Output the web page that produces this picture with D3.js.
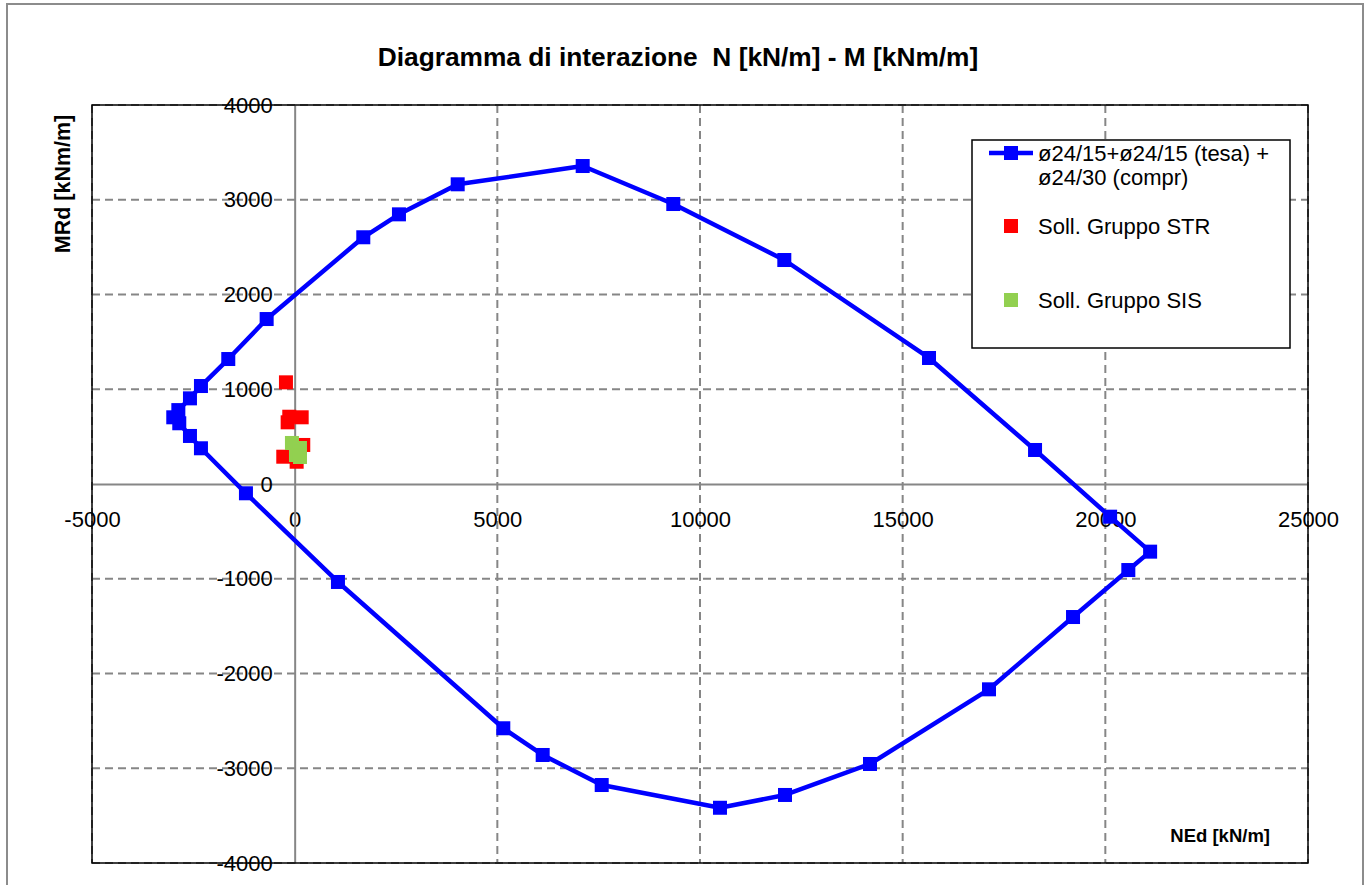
<!DOCTYPE html>
<html>
<head>
<meta charset="utf-8">
<script src="https://cdn.jsdelivr.net/npm/d3@7"></script>
<style>
  html, body { margin: 0; padding: 0; background: #fff; }
  svg { display: block; font-family: "Liberation Sans", Arial, sans-serif; }
</style>
</head>
<body>
<svg id="chart" width="1368" height="885"></svg>
<script>
// ---------- data ----------
const envelopeN = [-691, 1693, 2573, 4022, 7106, 9341, 12080, 15650, 18266, 20118, 21105, 20567, 19203, 17130, 14194, 12097, 10493, 7575, 6119, 5147, 1068, -1202, -2312, -2583, -2847, -2995, -2870, -2583, -2312, -1638];
const envelopeM = [1741, 2604, 2846, 3163, 3356, 2955, 2364, 1330, 359, -345, -714, -908, -1404, -2167, -2955, -3282, -3417, -3177, -2860, -2578, -1034, -98, 377, 507, 641, 704, 780, 904, 1034, 1319];

const strN = [-215, -133, 173, -173, 212, -281, 49];
const strM = [1073, 710, 704, 651, 412, 288, 235];

const sisN = [-67, 131, 32, 131];
const sisM = [433, 380, 306, 285];

const xTicks = [-5000, 0, 5000, 10000, 15000, 20000, 25000];
const yTicks = [-4000, -3000, -2000, -1000, 0, 1000, 2000, 3000, 4000];

const titleText = "Diagramma di interazione  N [kN/m] - M [kNm/m]";
const xTitle = "NEd [kN/m]";
const yTitle = "MRd [kNm/m]";
const legendLabels = ["ø24/15+ø24/15 (tesa) +", "ø24/30 (compr)", "Soll. Gruppo STR", "Soll. Gruppo SIS"];

// ---------- layout ----------
const svg = d3.select("#chart");
const plot = { left: 92, top: 105, right: 1308, bottom: 863 };
const x = d3.scaleLinear().domain([-5000, 25000]).range([plot.left, plot.right]);
const y = d3.scaleLinear().domain([-4000, 4000]).range([plot.bottom, plot.top]);

const BLUE = "#0000FF", RED = "#FF0000", GREEN = "#92D050", GRID = "#868686";

svg.append("rect").attr("width", 1368).attr("height", 885).attr("fill", "#fff");
// outer chart border
svg.append("rect").attr("x", 7).attr("y", 4).attr("width", 1356).attr("height", 900)
  .attr("fill", "none").attr("stroke", "#8c8c8c").attr("stroke-width", 2);

// title
svg.append("text").attr("x", 678).attr("y", 66).attr("text-anchor", "middle")
  .attr("font-size", 26.3).attr("font-weight", "bold").attr("fill", "#000")
  .style("white-space", "pre").text(titleText);

// plot area
svg.append("rect").attr("x", plot.left).attr("y", plot.top)
  .attr("width", plot.right - plot.left).attr("height", plot.bottom - plot.top)
  .attr("fill", "#fff");

// gridlines
const grid = svg.append("g");
grid.selectAll("line.v").data(xTicks.filter(d => d !== 0)).enter().append("line")
  .attr("x1", d => x(d)).attr("x2", d => x(d)).attr("y1", plot.top).attr("y2", plot.bottom)
  .attr("stroke", GRID).attr("stroke-width", 2).attr("stroke-dasharray", "8,5");
grid.selectAll("line.h").data(yTicks.filter(d => d !== 0)).enter().append("line")
  .attr("y1", d => y(d)).attr("y2", d => y(d)).attr("x1", plot.left).attr("x2", plot.right)
  .attr("stroke", GRID).attr("stroke-width", 2).attr("stroke-dasharray", "8,5");

// axes through zero
const fmt = d => String(d);
const xAxis = d3.axisBottom(x).tickValues(xTicks).tickSize(0).tickPadding(27).tickFormat(fmt);
const yAxis = d3.axisLeft(y).tickValues(yTicks).tickSize(0).tickPadding(22).tickFormat(fmt);
const gx = svg.append("g").attr("transform", `translate(0,${y(0)})`).call(xAxis);
const gy = svg.append("g").attr("transform", `translate(${x(0)},0)`).call(yAxis);
[gx, gy].forEach(g => {
  g.select(".domain").attr("stroke", GRID).attr("stroke-width", 2);
  g.selectAll("text").attr("font-size", 22).attr("fill", "#000")
    .attr("font-family", "'Liberation Sans', Arial, sans-serif");
});

// plot border
svg.append("rect").attr("x", plot.left).attr("y", plot.top)
  .attr("width", plot.right - plot.left).attr("height", plot.bottom - plot.top)
  .attr("fill", "none").attr("stroke", "#000").attr("stroke-width", 1.5);

// envelope
const env = envelopeN.map((n, i) => [n, envelopeM[i]]);
const line = d3.line().x(d => x(d[0])).y(d => y(d[1]));
svg.append("path").datum(env.concat([env[0]])).attr("d", line)
  .attr("fill", "none").attr("stroke", BLUE).attr("stroke-width", 4.5).attr("stroke-linejoin", "round");
const MS = 14;
svg.append("g").selectAll("rect").data(env).enter().append("rect")
  .attr("x", d => x(d[0]) - MS / 2).attr("y", d => y(d[1]) - MS / 2)
  .attr("width", MS).attr("height", MS).attr("fill", BLUE);

// STR points
svg.append("g").selectAll("rect").data(strN.map((n, i) => [n, strM[i]])).enter().append("rect")
  .attr("x", d => x(d[0]) - MS / 2).attr("y", d => y(d[1]) - MS / 2)
  .attr("width", MS).attr("height", MS).attr("fill", RED);
// SIS points
svg.append("g").selectAll("rect").data(sisN.map((n, i) => [n, sisM[i]])).enter().append("rect")
  .attr("x", d => x(d[0]) - MS / 2).attr("y", d => y(d[1]) - MS / 2)
  .attr("width", MS).attr("height", MS).attr("fill", GREEN);

// axis titles
svg.append("text").attr("x", 1270).attr("y", 842).attr("text-anchor", "end")
  .attr("font-size", 18.5).attr("font-weight", "bold").text(xTitle);
svg.append("text").attr("transform", "translate(70,184) rotate(-90)").attr("text-anchor", "middle")
  .attr("font-size", 21.5).attr("font-weight", "bold").text(yTitle);

// legend
const lg = svg.append("g");
lg.append("rect").attr("x", 972).attr("y", 140).attr("width", 318).attr("height", 208)
  .attr("fill", "#fff").attr("stroke", "#000").attr("stroke-width", 1.5);
lg.append("line").attr("x1", 989).attr("x2", 1033).attr("y1", 153).attr("y2", 153)
  .attr("stroke", BLUE).attr("stroke-width", 4.5);
lg.append("rect").attr("x", 1011 - MS / 2).attr("y", 153 - MS / 2).attr("width", MS).attr("height", MS).attr("fill", BLUE);
lg.append("rect").attr("x", 1011 - MS / 2).attr("y", 226 - MS / 2).attr("width", MS).attr("height", MS).attr("fill", RED);
lg.append("rect").attr("x", 1011 - MS / 2).attr("y", 300 - MS / 2).attr("width", MS).attr("height", MS).attr("fill", GREEN);
const ly = [161, 185, 234, 308];
legendLabels.forEach((t, i) => {
  lg.append("text").attr("x", 1038).attr("y", ly[i]).attr("font-size", 22).attr("fill", "#000").text(t);
});
</script>
</body>
</html>
